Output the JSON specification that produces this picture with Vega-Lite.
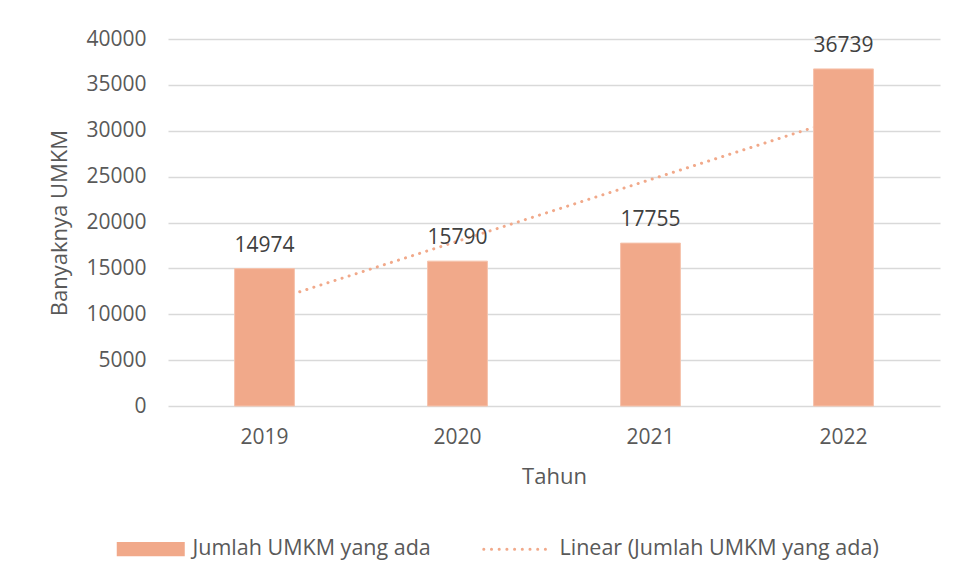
{
  "$schema": "https://vega.github.io/schema/vega-lite/v6.json",
  "autosize": {"type": "none"},
  "width": 772,
  "height": 367,
  "padding": {"left": 168, "top": 39, "right": 19, "bottom": 172},
  "background": "white",
  "config": {
    "font": "Open Sans",
    "view": {"stroke": null},
    "axis": {"labelFont": "Open Sans", "titleFont": "Open Sans", "labelColor": "#595959", "titleColor": "#595959", "titleFontWeight": "normal"},
    "legend": {"labelFont": "Open Sans"}
  },
  "datasets": {
    "umkm": [
      {"Tahun": "2019", "jumlah": 14974, "series": "Jumlah UMKM yang ada"},
      {"Tahun": "2020", "jumlah": 15790, "series": "Jumlah UMKM yang ada"},
      {"Tahun": "2021", "jumlah": 17755, "series": "Jumlah UMKM yang ada"},
      {"Tahun": "2022", "jumlah": 36739, "series": "Jumlah UMKM yang ada"}
    ],
    "trend": [
      {"Tahun": "2019", "jumlah": 11226, "series": "Linear (Jumlah UMKM yang ada)"},
      {"Tahun": "2022", "jumlah": 31404, "series": "Linear (Jumlah UMKM yang ada)"}
    ]
  },
  "encoding": {
    "x": {
      "field": "Tahun", "type": "ordinal",
      "scale": {"domain": ["2019", "2020", "2021", "2022"], "paddingInner": 0.69, "paddingOuter": 0.345},
      "axis": {
        "title": "Tahun", "labelAngle": 0, "labelFontSize": 21, "labelPadding": 20, "ticks": false, "domain": false,
        "titleFontSize": 22, "titlePadding": 19
      }
    },
    "y": {
      "field": "jumlah", "type": "quantitative",
      "scale": {"domain": [0, 40000], "nice": false},
      "axis": {
        "title": "Banyaknya UMKM", "values": [0, 5000, 10000, 15000, 20000, 25000, 30000, 35000, 40000],
        "format": "d", "labelFontSize": 21, "labelPadding": 22, "ticks": false, "domain": false,
        "grid": true, "gridColor": "#d9d9d9", "gridWidth": 1.3,
        "titleFontSize": 22, "titlePadding": 14
      }
    }
  },
  "layer": [
    {
      "data": {"name": "trend"},
      "mark": {"type": "line", "strokeWidth": 3, "strokeDash": [0.1, 7.3], "strokeCap": "round"},
      "encoding": {
        "color": {
          "field": "series", "type": "nominal",
          "scale": {"domain": ["Jumlah UMKM yang ada", "Linear (Jumlah UMKM yang ada)"], "range": ["#F1A98A", "#F1A98A"]},
          "legend": {
            "title": null, "orient": "none", "direction": "horizontal",
            "legendX": -28, "legendY": 499,
            "symbolSize": 4624, "labelFontSize": 21.5, "labelColor": "#595959", "labelOffset": 31,
            "columnPadding": 46, "labelLimit": 500,
            "encode": {
              "symbols": {
                "update": {
                  "shape": {"signal": "datum.value === 'Jumlah UMKM yang ada' ? 'M-1,-0.21H1V0.21H-1Z' : 'M-1,0H1'"},
                  "fill": {"signal": "datum.value === 'Jumlah UMKM yang ada' ? '#F1A98A' : 'transparent'"},
                  "stroke": {"value": "#F1A98A"},
                  "strokeWidth": {"signal": "datum.value === 'Jumlah UMKM yang ada' ? 0 : 3"},
                  "strokeDash": {"signal": "datum.value === 'Jumlah UMKM yang ada' ? [] : [0.1, 7.6]"},
                  "strokeCap": {"value": "round"},
                  "opacity": {"value": 1}
                }
              }
            }
          }
        }
      }
    },
    {
      "data": {"name": "umkm"},
      "mark": {"type": "bar", "stroke": "#F6C3AC", "strokeWidth": 1},
      "encoding": {
        "color": {"field": "series", "type": "nominal"}
      }
    },
    {
      "data": {"name": "umkm"},
      "mark": {"type": "text", "baseline": "alphabetic", "dy": -17, "fontSize": 21, "color": "#404040", "font": "Open Sans"},
      "encoding": {
        "text": {"field": "jumlah", "type": "quantitative", "format": "d"}
      }
    }
  ]
}
